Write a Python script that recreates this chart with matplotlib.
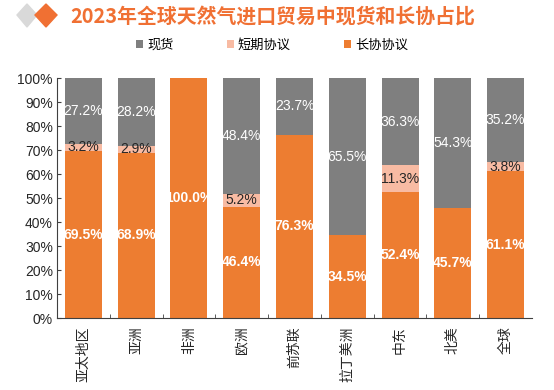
import matplotlib
matplotlib.use("Agg")
import matplotlib.pyplot as plt
from matplotlib.patches import Polygon
import numpy as np

plt.rcParams['font.family'] = ['Liberation Sans', 'Noto Sans CJK SC', 'DejaVu Sans']

categories = ["亚太地区", "亚洲", "非洲", "欧洲", "前苏联", "拉丁美洲", "中东", "北美", "全球"]
long_term = [69.5, 68.9, 100.0, 46.4, 76.3, 34.5, 52.4, 45.7, 61.1]
short_term = [3.2, 2.9, 0.0, 5.2, 0.0, 0.0, 11.3, 0.0, 3.8]
spot = [27.2, 28.2, 0.0, 48.4, 23.7, 65.5, 36.3, 54.3, 35.2]
yticks = [0, 10, 20, 30, 40, 50, 60, 70, 80, 90, 100]

c_orange = "#ED7D31"
c_gray = "#7F7F7F"
c_pink = "#F8BBA3"

fig = plt.figure(figsize=(5.54, 3.90), dpi=100)
ax = fig.add_axes([57/554, 1-318/390, (532-57)/554, (318-78)/390])

x = np.arange(len(categories))
lt = np.array(long_term); st = np.array(short_term); sp = np.array(spot)
w = 0.7
ax.bar(x, lt, w, color=c_orange, label="长协协议", zorder=2)
ax.bar(x, st, w, bottom=lt, color=c_pink, label="短期协议", zorder=2)
ax.bar(x, sp, w, bottom=lt+st, color=c_gray, label="现货", zorder=2)

for i in range(len(categories)):
    if lt[i] > 0:
        ax.text(x[i], lt[i]/2, f"{lt[i]:.1f}%", ha='center', va='center', color='white',
                fontsize=10, fontweight='bold', zorder=3)
    if st[i] > 0:
        ax.text(x[i], lt[i]+st[i]/2, f"{st[i]:.1f}%", ha='center', va='center', color='#262626',
                fontsize=10, zorder=3)
    if sp[i] > 0:
        ax.text(x[i], lt[i]+st[i]+sp[i]/2, f"{sp[i]:.1f}%", ha='center', va='center', color='white',
                fontsize=10, zorder=3)

ax.set_xlim(-0.5, len(categories)-0.5)
ax.set_ylim(0, 100)
ax.set_yticks(yticks)
ax.set_yticklabels([f"{v}%" for v in yticks], fontsize=10, color='#262626')
ax.set_xticks(x)
ax.set_xticklabels(categories, rotation=90, fontsize=10, color='#262626',
                   family=['Noto Sans CJK SC', 'DejaVu Sans'])
ax.tick_params(axis='x', length=0, pad=6)
ax.set_xticks(np.arange(0.5, len(categories)-0.5, 1), minor=True)
ax.tick_params(axis='x', which='minor', length=3, direction='in', color='#404040')
ax.tick_params(axis='y', length=3, direction='in', color='#404040', pad=3)
for s in ['top', 'right']:
    ax.spines[s].set_visible(False)
for s in ['left', 'bottom']:
    ax.spines[s].set_color('#404040')

handles, labels = ax.get_legend_handles_labels()
order = [2, 1, 0]
leg = fig.legend([handles[i] for i in order], [labels[i] for i in order], loc='center',
                 bbox_to_anchor=(272/554, 1-45/390), ncol=3, frameon=False,
                 handlelength=0.55, handleheight=0.55, columnspacing=4.0, handletextpad=0.3,
                 prop={'family': ['Noto Sans CJK SC', 'DejaVu Sans'], 'size': 9.5})

# title with diamonds
d1 = Polygon([(17/554, 1-15/390), (27/554, 1-4/390), (37/554, 1-15/390), (27/554, 1-27/390)],
             closed=True, transform=fig.transFigure, color='#D9D9D9')
d2 = Polygon([(35/554, 1-15/390), (46/554, 1-4/390), (57/554, 1-15/390), (46/554, 1-27/390)],
             closed=True, transform=fig.transFigure, color='#F07033')
fig.patches.extend([d1, d2])
fig.text(70/554, 1-16/390, "2023年全球天然气进口贸易中现货和长协占比", ha='left', va='center',
         fontsize=14.3, fontweight='bold', color='#F07033',
         family=['Noto Sans CJK SC', 'DejaVu Sans'])

fig.savefig("out.png", dpi=100)
